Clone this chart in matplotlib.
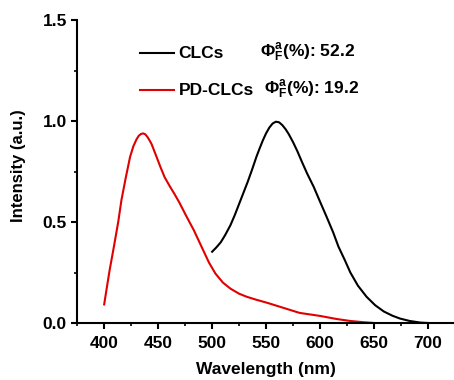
import matplotlib
matplotlib.use("Agg")
import matplotlib.pyplot as plt
from matplotlib.ticker import MultipleLocator

plt.rcParams['font.family'] = 'Liberation Sans'
plt.rcParams['font.weight'] = 'bold'
plt.rcParams['mathtext.fontset'] = 'custom'
plt.rcParams['mathtext.rm'] = 'Liberation Sans:bold'
plt.rcParams['mathtext.it'] = 'Liberation Sans:bold'
plt.rcParams['mathtext.bf'] = 'Liberation Sans:bold'

# CLCs emission (black)
clc_wl = [500, 504, 508, 512, 517, 521, 525, 529, 533, 537, 541, 544, 547, 550, 553, 556, 559,
          562, 565, 568, 571, 575, 579, 583, 588, 594, 600, 606, 612, 617, 623, 628, 635, 643,
          651, 659, 667, 674, 683, 693, 700]
clc_int = [0.353, 0.375, 0.40, 0.435, 0.485, 0.535, 0.59, 0.645, 0.70, 0.76, 0.823, 0.865,
           0.905, 0.94, 0.968, 0.988, 0.997, 0.994, 0.98, 0.96, 0.935, 0.895, 0.85, 0.80,
           0.74, 0.675, 0.60, 0.526, 0.45, 0.378, 0.31, 0.25, 0.185, 0.13, 0.088,
           0.057, 0.036, 0.022, 0.01, 0.002, 0.0]

# PD-CLCs emission (red)
pd_wl = [400, 402, 405, 409, 413, 416, 420, 424, 427, 430, 432, 434, 436, 438, 440, 442, 444,
         448, 452, 456, 461, 465, 470, 476, 483, 490, 497, 503, 510, 517, 525, 532, 541, 551,
         566, 581, 600, 615, 628, 640, 650]
pd_int = [0.092, 0.16, 0.26, 0.378, 0.50, 0.609, 0.72, 0.823, 0.875, 0.91, 0.927, 0.936,
          0.939, 0.935, 0.922, 0.905, 0.885, 0.83, 0.774, 0.722, 0.675, 0.64, 0.593, 0.53,
          0.46, 0.38, 0.30, 0.245, 0.20, 0.17, 0.145, 0.13, 0.115, 0.10, 0.075, 0.05,
          0.035, 0.02, 0.01, 0.004, 0.0]

fig = plt.figure(figsize=(4.54, 3.8), dpi=100)
ax = fig.add_axes([0.170, 0.150, 0.830, 0.797])

ax.plot(clc_wl, clc_int, color='black', linewidth=1.5)
ax.plot(pd_wl, pd_int, color='#e00000', linewidth=1.5)

ax.set_xlim(375, 724)
ax.set_ylim(0, 1.5)
ax.xaxis.set_minor_locator(MultipleLocator(25))
ax.yaxis.set_major_locator(MultipleLocator(0.5))
ax.yaxis.set_minor_locator(MultipleLocator(0.25))
ax.set_xticks([400, 450, 500, 550, 600, 650, 700])

for side in ['top', 'right']:
    ax.spines[side].set_visible(False)
for side in ['left', 'bottom']:
    ax.spines[side].set_linewidth(1.5)

ax.tick_params(which='major', direction='out', length=4, width=1.5, labelsize=12.5)
ax.tick_params(axis='x', which='major', pad=5)
ax.tick_params(which='minor', direction='out', length=2.5, width=1.2)

ax.set_xlabel('Wavelength (nm)', fontsize=12.5, fontweight='bold')
ax.set_ylabel('Intensity (a.u.)', fontsize=12, fontweight='bold')
ax.xaxis.set_label_coords(0.501, -0.155)
ax.yaxis.set_label_coords(-0.156, 0.518)
ax.xaxis.label.set_va('center')
ax.yaxis.label.set_va('center')

# legend drawn by hand
ax.plot([433, 465], [1.337, 1.337], color='black', linewidth=1.5)
ax.plot([433, 465], [1.153, 1.153], color='#e00000', linewidth=1.5)
ax.text(469, 1.337, 'CLCs', fontsize=12.5, fontweight='bold', va='center')
ax.text(469, 1.153, 'PD-CLCs', fontsize=12.5, fontweight='bold', va='center')
ax.text(544, 1.337, r'$\Phi_F^a$(%): 52.2', fontsize=12.5, fontweight='bold', va='center')
ax.text(548, 1.153, r'$\Phi_F^a$(%): 19.2', fontsize=12.5, fontweight='bold', va='center')

fig.savefig('out.png', dpi=100)
